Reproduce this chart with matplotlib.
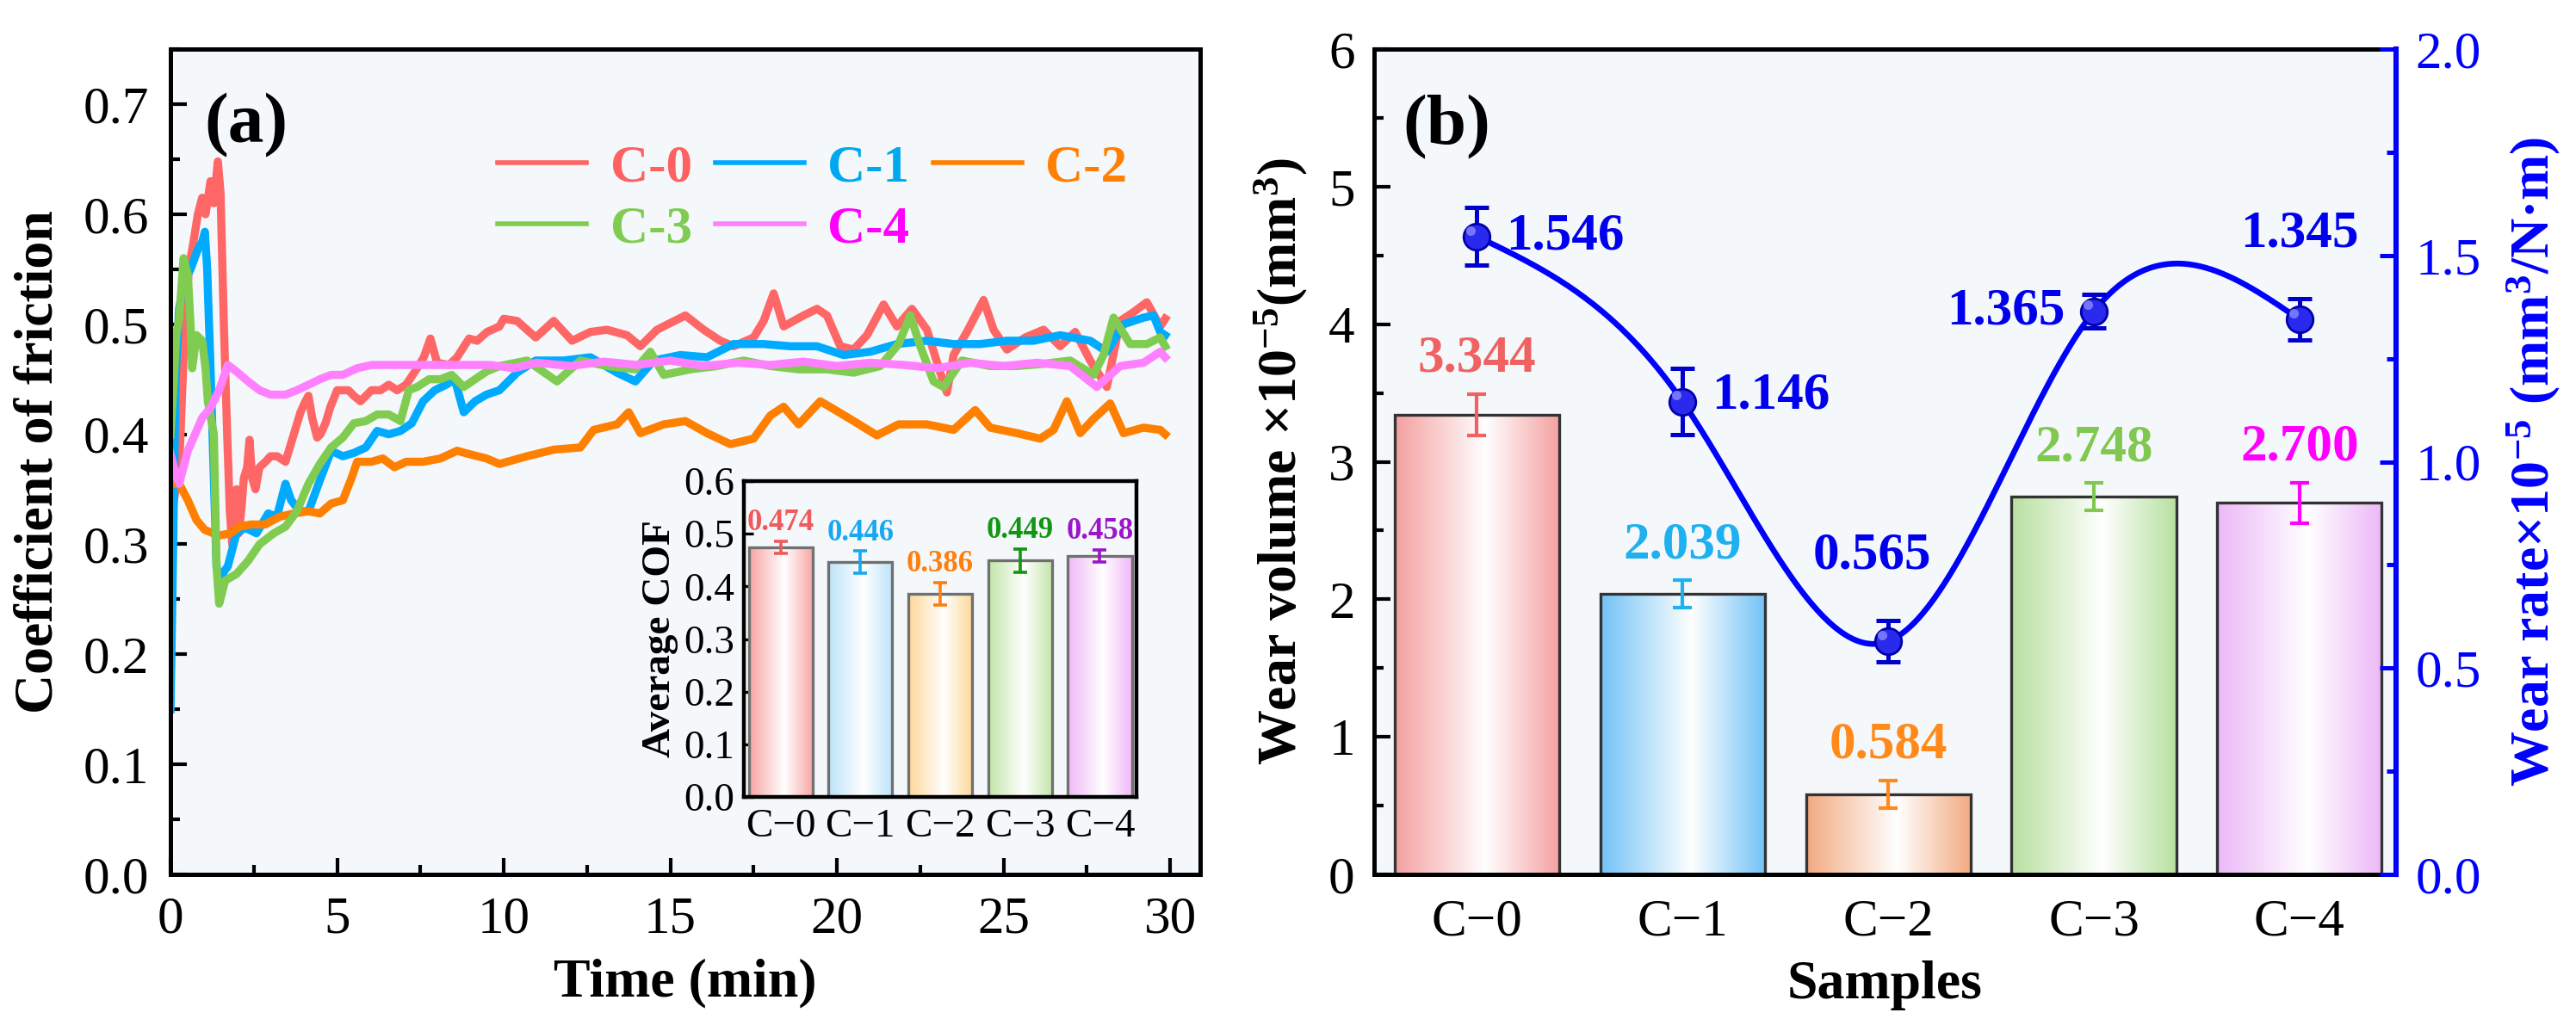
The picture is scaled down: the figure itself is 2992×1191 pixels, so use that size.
import numpy as np
import matplotlib
matplotlib.use('Agg')
import matplotlib.pyplot as plt
from matplotlib.colors import LinearSegmentedColormap
from matplotlib.ticker import MultipleLocator

plt.rcParams['font.family'] = ['Liberation Serif', 'DejaVu Serif']
plt.rcParams['mathtext.fontset'] = 'custom'
plt.rcParams['mathtext.rm'] = 'Liberation Serif'
plt.rcParams['mathtext.bf'] = 'Liberation Serif:bold'
plt.rcParams['mathtext.default'] = 'bf'

# ---------------- data: panel (a) friction curves ----------------
series_names = ['C-0', 'C-1', 'C-2', 'C-3', 'C-4']

c0_t = [0.05, 0.26, 0.43, 0.55, 0.69, 0.82, 0.95, 1.05, 1.2, 1.3, 1.42, 1.5, 1.6, 1.7, 1.78, 1.85, 1.92, 1.98, 2.05,
        2.12, 2.2, 2.3, 2.37, 2.45, 2.55, 2.67, 2.85, 3.0, 3.2, 3.45, 3.7, 3.9, 4.05, 4.14, 4.25, 4.4, 4.5, 4.65, 4.8,
        5.0, 5.34, 5.5, 5.7, 6.03, 6.3, 6.55, 6.8, 7.07, 7.4, 7.6, 7.8, 8.0, 8.36, 8.6, 8.96, 9.2, 9.5, 9.87, 10.0,
        10.4, 10.96, 11.5, 12.05, 12.6, 13.1, 13.7, 14.1, 14.6, 15.45, 16.0, 16.5, 16.9, 17.5, 17.8, 18.1, 18.4, 19.0,
        19.4, 19.7, 20.1, 20.5, 20.9, 21.4, 21.8, 22.25, 22.7, 23.1, 23.3, 23.5, 23.9, 24.4, 24.7, 25.1, 25.65, 26.2,
        26.7, 27.15, 27.6, 28.1, 28.5, 28.9, 29.3, 29.7, 29.85]
c0_v = [0.33, 0.37, 0.50, 0.55, 0.575, 0.60, 0.615, 0.60, 0.63, 0.61, 0.648, 0.62, 0.50, 0.40, 0.33, 0.30, 0.34, 0.35,
        0.31, 0.33, 0.36, 0.37, 0.395, 0.36, 0.35, 0.37, 0.375, 0.38, 0.38, 0.375, 0.40, 0.42, 0.43, 0.435, 0.415,
        0.397, 0.40, 0.41, 0.425, 0.44, 0.44, 0.435, 0.43, 0.44, 0.44, 0.445, 0.44, 0.445, 0.46, 0.47, 0.487, 0.465,
        0.463, 0.47, 0.487, 0.485, 0.493, 0.498, 0.505, 0.503, 0.488, 0.503, 0.485, 0.493, 0.495, 0.49, 0.48, 0.495,
        0.508, 0.495, 0.485, 0.48, 0.488, 0.503, 0.528, 0.498, 0.508, 0.514, 0.508, 0.48, 0.477, 0.49, 0.518, 0.498,
        0.514, 0.495, 0.456, 0.438, 0.472, 0.493, 0.522, 0.495, 0.477, 0.488, 0.495, 0.48, 0.493, 0.467, 0.443, 0.503,
        0.511, 0.52, 0.498, 0.505]

c1_t = [0.0, 0.08, 0.15, 0.26, 0.43, 0.6, 0.82, 0.95, 1.03, 1.1, 1.2, 1.3, 1.38, 1.46, 1.6, 1.72, 1.98, 2.24, 2.58,
        2.93, 3.19, 3.45, 3.62, 3.88, 4.14, 4.48, 4.82, 5.17, 5.5, 5.86, 6.2, 6.55, 6.9, 7.24, 7.58, 7.93, 8.27, 8.53,
        8.8, 9.14, 9.48, 9.87, 10.4, 10.96, 11.8, 12.6, 13.4, 13.95, 14.5, 15.3, 16.1, 16.9, 17.8, 18.6, 19.4, 20.2,
        21.0, 21.8, 22.7, 23.5, 24.3, 25.1, 25.9, 26.7, 27.6, 28.1, 28.6, 29.2, 29.5, 29.7, 29.85]
c1_v = [0.15, 0.30, 0.45, 0.515, 0.54, 0.55, 0.568, 0.575, 0.584, 0.55, 0.46, 0.36, 0.28, 0.265, 0.275, 0.28, 0.31,
        0.315, 0.31, 0.328, 0.325, 0.355, 0.34, 0.33, 0.33, 0.358, 0.385, 0.38, 0.383, 0.388, 0.403, 0.40, 0.403, 0.41,
        0.43, 0.44, 0.445, 0.45, 0.42, 0.43, 0.436, 0.44, 0.456, 0.467, 0.467, 0.47, 0.456, 0.448, 0.467, 0.472, 0.47,
        0.482, 0.482, 0.48, 0.48, 0.472, 0.475, 0.482, 0.485, 0.482, 0.482, 0.485, 0.485, 0.49, 0.485, 0.475, 0.50,
        0.506, 0.508, 0.493, 0.49]

c2_t = [0.0, 0.1, 0.26, 0.52, 0.78, 1.03, 1.46, 1.8, 2.07, 2.41, 2.84, 3.27, 3.7, 4.14, 4.48, 4.82, 5.17, 5.43, 5.6,
        6.03, 6.37, 6.72, 7.07, 7.58, 8.1, 8.6, 8.96, 9.48, 9.87, 10.7, 11.5, 12.3, 12.7, 13.4, 13.75, 14.1, 14.8,
        15.45, 16.1, 16.8, 17.5, 18.0, 18.4, 18.85, 19.5, 19.95, 20.5, 21.2, 21.85, 22.7, 23.5, 24.15, 24.6, 25.4,
        26.1, 26.5, 26.9, 27.3, 27.7, 28.2, 28.6, 29.2, 29.7, 29.85]
c2_v = [0.36, 0.355, 0.355, 0.34, 0.322, 0.313, 0.308, 0.31, 0.316, 0.318, 0.318, 0.325, 0.328, 0.33, 0.328, 0.337,
        0.34, 0.36, 0.375, 0.375, 0.378, 0.37, 0.375, 0.375, 0.378, 0.385, 0.382, 0.378, 0.373, 0.38, 0.386, 0.388,
        0.404, 0.409, 0.42, 0.401, 0.409, 0.412, 0.401, 0.391, 0.396, 0.417, 0.425, 0.409, 0.43, 0.422, 0.412, 0.399,
        0.409, 0.409, 0.404, 0.422, 0.406, 0.401, 0.396, 0.404, 0.43, 0.401, 0.414, 0.428, 0.401, 0.406, 0.404, 0.40]

c3_t = [0.0, 0.1, 0.17, 0.26, 0.39, 0.52, 0.6, 0.65, 0.78, 0.95, 1.05, 1.12, 1.3, 1.38, 1.46, 1.64, 1.98, 2.33, 2.67,
        3.1, 3.45, 3.79, 4.14, 4.48, 4.82, 5.17, 5.5, 5.86, 6.2, 6.55, 6.9, 7.15, 7.4, 7.76, 8.1, 8.44, 8.8, 9.14,
        9.48, 9.87, 10.7, 11.6, 12.3, 13.1, 13.95, 14.4, 14.8, 15.6, 16.4, 17.2, 18.0, 18.85, 19.7, 20.5, 21.3, 21.85,
        22.2, 22.5, 22.9, 23.2, 23.75, 24.6, 25.4, 26.2, 27.0, 27.7, 28.0, 28.3, 28.8, 29.3, 29.7, 29.85]
c3_v = [0.40, 0.45, 0.49, 0.505, 0.56, 0.545, 0.50, 0.46, 0.49, 0.485, 0.46, 0.43, 0.40, 0.28, 0.246, 0.267, 0.273,
        0.285, 0.30, 0.31, 0.316, 0.33, 0.355, 0.373, 0.388, 0.397, 0.41, 0.412, 0.418, 0.418, 0.412, 0.44, 0.443,
        0.45, 0.45, 0.454, 0.443, 0.45, 0.457, 0.462, 0.467, 0.448, 0.467, 0.462, 0.459, 0.475, 0.454, 0.459, 0.462,
        0.467, 0.462, 0.459, 0.459, 0.456, 0.462, 0.482, 0.508, 0.48, 0.448, 0.443, 0.467, 0.462, 0.462, 0.464, 0.467,
        0.454, 0.472, 0.506, 0.482, 0.482, 0.488, 0.48]

c4_t = [0.0, 0.1, 0.26, 0.52, 0.78, 0.95, 1.2, 1.46, 1.72, 1.98, 2.33, 2.67, 3.0, 3.45, 3.79, 4.14, 4.48, 4.82, 5.17,
        5.6, 6.03, 6.55, 7.07, 7.58, 8.1, 8.6, 9.14, 9.6, 10.3, 11.0, 12.0, 13.0, 14.0, 15.0, 16.0, 17.0, 18.0, 19.0,
        20.0, 21.0, 22.0, 23.0, 24.0, 25.0, 26.0, 27.0, 27.8, 28.5, 29.2, 29.7, 29.85]
c4_v = [0.382, 0.37, 0.355, 0.385, 0.403, 0.415, 0.424, 0.44, 0.463, 0.457, 0.448, 0.44, 0.436, 0.436, 0.44, 0.445,
        0.45, 0.454, 0.454, 0.46, 0.463, 0.463, 0.463, 0.463, 0.463, 0.463, 0.463, 0.463, 0.46, 0.465, 0.462, 0.466,
        0.463, 0.467, 0.462, 0.465, 0.463, 0.466, 0.462, 0.465, 0.463, 0.46, 0.465, 0.462, 0.465, 0.462, 0.443, 0.462,
        0.465, 0.475, 0.47]

# inset: average COF
inset_labels = ['C\u22120', 'C\u22121', 'C\u22122', 'C\u22123', 'C\u22124']
avg_cof = [0.474, 0.446, 0.386, 0.449, 0.458]
avg_cof_err = [0.012, 0.021, 0.021, 0.022, 0.011]

# ---------------- data: panel (b) ----------------
samples = ['C\u22120', 'C\u22121', 'C\u22122', 'C\u22123', 'C\u22124']
wear_volume = [3.344, 2.039, 0.584, 2.748, 2.700]
wear_volume_err = [0.15, 0.10, 0.10, 0.10, 0.15]
wear_rate = [1.546, 1.146, 0.565, 1.365, 1.345]
wear_rate_err = [0.07, 0.08, 0.05, 0.04, 0.05]

# ---------------- styles ----------------
line_colors = ['#ff6666', '#00aaff', '#ff7f00', '#80cc50', '#ff80ff']
legend_text_colors = ['#ff6060', '#00a8f0', '#ff7f00', '#7fcc50', '#ff00ff']
inset_fill = ['#f8a4a4', '#bde3fa', '#fdd898', '#c2e6a8', '#f0b8f8']
inset_text = ['#f05a5a', '#18a8f0', '#ff7f0e', '#129612', '#9a16c8']
b_fill = ['#f4a0a0', '#72c2f6', '#f2aa80', '#b8e0a0', '#ecb8f8']
b_text = ['#f06262', '#1fb0f0', '#ff8a1a', '#80c850', '#ff00ff']
bg = '#f5f8fb'
BLUE = '#0000ff'

fig = plt.figure(figsize=(14.96, 5.955), dpi=200)


def grad_bar(ax, x, h, w, color, edge, lw, z):
    cmap = LinearSegmentedColormap.from_list('g', [(0, color), (0.55, 'white'), (1, color)])
    grad = np.linspace(0, 1, 256).reshape(1, -1)
    ax.imshow(grad, extent=[x - w / 2, x + w / 2, 0, h], aspect='auto', cmap=cmap,
              zorder=z, interpolation='bicubic')
    ax.bar(x, h, w, facecolor='none', edgecolor=edge, lw=lw, zorder=z + 0.1)


# ================= panel (a) =================
axa = fig.add_axes([0.0662, 0.147, 0.3997, 0.805])
axa.set_facecolor(bg)
curves = [(c0_t, c0_v), (c1_t, c1_v), (c2_t, c2_v), (c3_t, c3_v), (c4_t, c4_v)]
lines = []
for (t, v), name, col in zip(curves, series_names, line_colors):
    ln, = axa.plot(t, v, color=col, lw=3.4, label=name, solid_joinstyle='round')
    lines.append(ln)
axa.set_xlim(0, 30.9)
axa.set_ylim(0, 0.75)
axa.xaxis.set_major_locator(MultipleLocator(5))
axa.xaxis.set_minor_locator(MultipleLocator(2.5))
axa.yaxis.set_major_locator(MultipleLocator(0.1))
axa.yaxis.set_minor_locator(MultipleLocator(0.05))
axa.tick_params(which='major', direction='in', length=7, width=1.5, labelsize=22, pad=9)
axa.tick_params(which='minor', direction='in', length=4, width=1.5)
for s in axa.spines.values():
    s.set_linewidth(1.8)
axa.set_xlabel('Time (min)', fontsize=23, fontweight='bold', labelpad=6)
axa.set_ylabel('Coefficient of friction', fontsize=23, fontweight='bold', labelpad=8)
axa.text(0.033, 0.907, '(a)', transform=axa.transAxes, fontsize=30, fontweight='bold',
         ha='left', va='center')

order = [0, 3, 1, 4, 2]
leg = axa.legend([lines[i] for i in order], [series_names[i] for i in order], ncol=3,
                 loc='upper left', bbox_to_anchor=(0.318, 0.885), frameon=False,
                 prop={'size': 22, 'weight': 'bold'}, handlelength=1.68, handletextpad=0.45,
                 columnspacing=0.45, labelspacing=0.25, borderpad=0, borderaxespad=0)
for txt, i in zip(leg.get_texts(), order):
    txt.set_color(legend_text_colors[i])
for h in leg.legend_handles:
    h.set_linewidth(2)

# inset
axi = fig.add_axes([0.2888, 0.2225, 0.1524, 0.3081])
axi.set_facecolor(bg)
xi = np.arange(len(avg_cof))
for i in range(len(avg_cof)):
    grad_bar(axi, xi[i], avg_cof[i], 0.8, inset_fill[i], '#707070', 1.2, 2)
    axi.errorbar(xi[i], avg_cof[i], yerr=avg_cof_err[i], color=inset_text[i], lw=1.3,
                 capsize=3, capthick=1.3, zorder=4)
    axi.text(xi[i], avg_cof[i] + avg_cof_err[i] + 0.008, f'{avg_cof[i]:.3f}', color=inset_text[i],
             fontsize=12.5, fontweight='bold', ha='center', va='bottom', zorder=5)
axi.set_xlim(-0.46, 4.46)
axi.set_ylim(0, 0.6)
axi.yaxis.set_major_locator(MultipleLocator(0.1))
axi.set_xticks(xi)
axi.set_xticklabels(inset_labels)
axi.tick_params(axis='y', direction='in', length=4, width=1.2, labelsize=17, pad=4)
axi.tick_params(axis='x', length=0, labelsize=17, pad=5)
for s in axi.spines.values():
    s.set_linewidth(1.6)
axi.set_ylabel('Average COF', fontsize=17, fontweight='bold', labelpad=2)

# ================= panel (b) =================
axb = fig.add_axes([0.5334, 0.147, 0.3968, 0.805])
axb.set_facecolor(bg)
xb = np.arange(len(wear_volume))
for i in range(len(wear_volume)):
    grad_bar(axb, xb[i], wear_volume[i], 0.8, b_fill[i], '#333333', 1.2, 2)
    axb.errorbar(xb[i], wear_volume[i], yerr=wear_volume_err[i], color=b_text[i], lw=1.5,
                 capsize=4, capthick=1.5, zorder=4)
    axb.text(xb[i], wear_volume[i] + wear_volume_err[i] + 0.08, f'{wear_volume[i]:.3f}', color=b_text[i],
             fontsize=22, fontweight='bold', ha='center', va='bottom', zorder=5)
axb.set_xlim(-0.5, 4.47)
axb.set_ylim(0, 6)
axb.yaxis.set_major_locator(MultipleLocator(1))
axb.yaxis.set_minor_locator(MultipleLocator(0.5))
axb.set_xticks(xb)
axb.set_xticklabels(samples)
axb.tick_params(axis='y', which='major', direction='in', length=7, width=1.5, labelsize=22, pad=8)
axb.tick_params(axis='y', which='minor', direction='in', length=4, width=1.5)
axb.tick_params(axis='x', length=0, labelsize=22, pad=10)
for s in axb.spines.values():
    s.set_linewidth(1.8)
axb.spines['right'].set_visible(False)
axb.set_xlabel('Samples', fontsize=23, fontweight='bold', labelpad=6)
axb.set_ylabel('Wear volume \u00d710$^{-5}$(mm$^{3}$)', fontsize=23, fontweight='bold', labelpad=8)
axb.text(0.028, 0.905, '(b)', transform=axb.transAxes, fontsize=30, fontweight='bold',
         ha='left', va='center')

axr = axb.twinx()
for k in ['left', 'top', 'bottom']:
    axr.spines[k].set_visible(False)
axr.spines['right'].set_color(BLUE)
axr.spines['right'].set_linewidth(2.2)
axr.set_ylim(0, 2.0)
axr.yaxis.set_major_locator(MultipleLocator(0.5))
axr.yaxis.set_minor_locator(MultipleLocator(0.25))
axr.tick_params(axis='y', which='major', direction='in', length=7, width=1.8, labelsize=22, pad=8,
                colors=BLUE)
axr.tick_params(axis='y', which='minor', direction='in', length=4, width=1.8, colors=BLUE)
axr.set_ylabel('Wear rate\u00d710$^{-5}$ (mm$^{3}$/N\u00b7m)', fontsize=23, fontweight='bold',
               color=BLUE, labelpad=10)


# natural cubic spline through the measured wear-rate points (curve rendering)
def natural_spline(x, y, xn):
    x = np.asarray(x, float)
    y = np.asarray(y, float)
    n = len(x)
    h = np.diff(x)
    A = np.zeros((n, n))
    r = np.zeros(n)
    A[0, 0] = A[-1, -1] = 1
    for i in range(1, n - 1):
        A[i, i - 1] = h[i - 1]
        A[i, i] = 2 * (h[i - 1] + h[i])
        A[i, i + 1] = h[i]
        r[i] = 6 * ((y[i + 1] - y[i]) / h[i] - (y[i] - y[i - 1]) / h[i - 1])
    M = np.linalg.solve(A, r)
    out = np.empty_like(xn)
    for j, xv in enumerate(xn):
        i = min(max(np.searchsorted(x, xv) - 1, 0), n - 2)
        a = (x[i + 1] - xv) / h[i]
        b = (xv - x[i]) / h[i]
        out[j] = (a * y[i] + b * y[i + 1] +
                  ((a ** 3 - a) * M[i] + (b ** 3 - b) * M[i + 1]) * h[i] ** 2 / 6)
    return out


xs = np.linspace(0, 4, 300)
axr.plot(xs, natural_spline(xb, wear_rate, xs), color=BLUE, lw=2.4, zorder=3)
axr.errorbar(xb, wear_rate, yerr=wear_rate_err, fmt='none', ecolor='#0000cc', elinewidth=1.8,
             capsize=5, capthick=1.8, zorder=4)
axr.plot(xb, wear_rate, 'o', ms=11, mfc='#2a2aee', mec='#0000aa', mew=1, zorder=5)
axr.plot(np.array(xb) - 0.03, np.array(wear_rate) + 0.015, 'o', ms=4, mfc='#8a8aff', mec='none',
         alpha=0.8, zorder=6)

rate_offsets = [(0.14, 0.0, 'left', 'center'), (0.14, 0.015, 'left', 'center'),
                (-0.08, None, 'center', 'bottom'), (-0.14, 0.0, 'right', 'center'),
                (0.0, None, 'center', 'bottom')]
for i, (dx, dy, ha, va) in enumerate(rate_offsets):
    yy = wear_rate[i] + dy if dy is not None else wear_rate[i] + wear_rate_err[i] + 0.1
    axr.text(xb[i] + dx, yy, f'{wear_rate[i]:.3f}', color='#0000ee', fontsize=22,
             fontweight='bold', ha=ha, va=va, zorder=7)

fig.savefig('out.png', dpi=200)
